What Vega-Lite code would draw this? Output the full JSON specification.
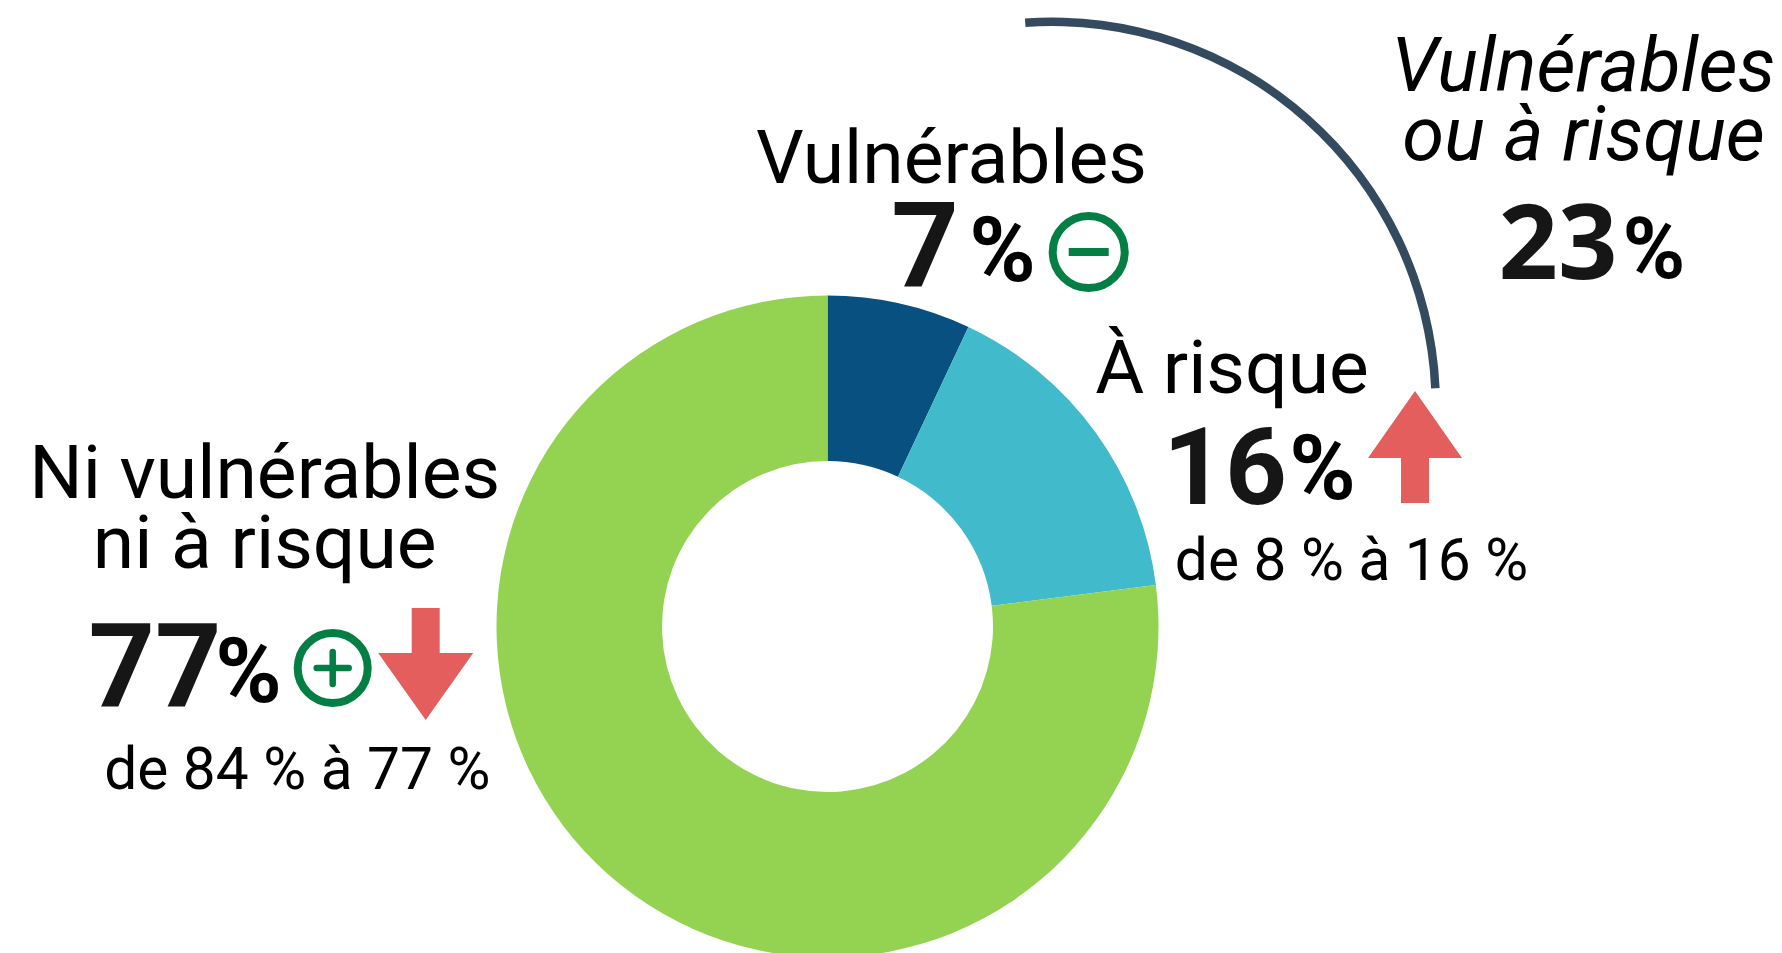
{"$schema":"https://vega.github.io/schema/vega-lite/v6.json","width":1782,"height":953,"padding":0,"autosize":{"type":"none"},"background":"white","config":{"view":{"stroke":null}},
"resolve":{"scale":{"theta":"independent"}},
"layer":[
{"data":{"values":[{"categorie":"Vulnérables","part":7,"rang":1},{"categorie":"À risque","part":16,"rang":2},{"categorie":"Ni vulnérables ni à risque","part":77,"rang":3}]},
"mark":{"type":"arc","x":827.5,"y":626.5,"innerRadius":165.5,"outerRadius":331},
"encoding":{"theta":{"field":"part","type":"quantitative","stack":true},"order":{"field":"rang","type":"quantitative"},"color":{"field":"categorie","type":"nominal","legend":null,"scale":{"domain":["Vulnérables","À risque","Ni vulnérables ni à risque"],"range":["#08507F","#41BBCB","#94D351"]}}}},
{"data":{"values":[{"debut":-4,"fin":87.4}]},
"mark":{"type":"arc","x":1052,"y":405.6,"innerRadius":379.5,"outerRadius":388,"color":"#344A5E"},
"encoding":{"theta":{"field":"debut","type":"quantitative","scale":{"domain":[0,360],"range":[0,6.28318]}},"theta2":{"field":"fin"}}},
{"data":{"values":[{"t":"Vulnérables"}]},"mark":{"type":"text","x":951.5,"y":183.3,"align":"center","baseline":"alphabetic","font":"Roboto","fontSize":75,"color":"#000000"},"encoding":{"text":{"field":"t"}}},
{"data":{"values":[{"t":"À risque"}]},"mark":{"type":"text","x":1232,"y":393.4,"align":"center","baseline":"alphabetic","font":"Roboto","fontSize":75,"color":"#000000"},"encoding":{"text":{"field":"t"}}},
{"data":{"values":[{"t":"Ni vulnérables"}]},"mark":{"type":"text","x":264.7,"y":498.3,"align":"center","baseline":"alphabetic","font":"Roboto","fontSize":75,"color":"#000000"},"encoding":{"text":{"field":"t"}}},
{"data":{"values":[{"t":"ni à risque"}]},"mark":{"type":"text","x":264.7,"y":568,"align":"center","baseline":"alphabetic","font":"Roboto","fontSize":75,"color":"#000000"},"encoding":{"text":{"field":"t"}}},
{"data":{"values":[{"t":"Vulnérables"}]},"mark":{"type":"text","x":1583.5,"y":90.7,"align":"center","baseline":"alphabetic","font":"Roboto","fontStyle":"italic","fontSize":76,"color":"#000000"},"encoding":{"text":{"field":"t"}}},
{"data":{"values":[{"t":"ou à risque"}]},"mark":{"type":"text","x":1583.5,"y":160,"align":"center","baseline":"alphabetic","font":"Roboto","fontStyle":"italic","fontSize":76,"color":"#000000"},"encoding":{"text":{"field":"t"}}},
{"data":{"values":[{"t":"de 8 % à 16 %"}]},"mark":{"type":"text","x":1351.5,"y":580,"align":"center","baseline":"alphabetic","font":"Roboto","fontSize":58.6,"color":"#000000"},"encoding":{"text":{"field":"t"}}},
{"data":{"values":[{"t":"de 84 % à 77 %"}]},"mark":{"type":"text","x":297.3,"y":789.3,"align":"center","baseline":"alphabetic","font":"Roboto","fontSize":58.6,"color":"#000000"},"encoding":{"text":{"field":"t"}}},
{"data":{"values":[{"t":"7"}]},"mark":{"type":"text","x":925,"y":286,"align":"center","baseline":"alphabetic","font":"Roboto","fontWeight":"bold","fontSize":118,"color":"#161616"},"encoding":{"text":{"field":"t"}}},
{"data":{"values":[{"t":"16"}]},"mark":{"type":"text","x":1225,"y":504.4,"align":"center","baseline":"alphabetic","font":"Roboto","fontWeight":"bold","fontSize":108,"color":"#161616"},"encoding":{"text":{"field":"t"}}},
{"data":{"values":[{"t":"77"}]},"mark":{"type":"text","x":155,"y":706,"align":"center","baseline":"alphabetic","font":"Roboto","fontWeight":"bold","fontSize":116,"color":"#161616"},"encoding":{"text":{"field":"t"}}},
{"data":{"values":[{"t":"23"}]},"mark":{"type":"text","x":1558,"y":279.4,"align":"center","baseline":"alphabetic","font":"Open Sans","fontWeight":"bold","fontSize":104,"color":"#161616"},"encoding":{"text":{"field":"t"}}},
{"data":{"values":[{"t":"%"}]},"mark":{"type":"text","x":1002.5,"y":281,"align":"center","baseline":"alphabetic","font":"Roboto","fontWeight":"bold","fontSize":90,"color":"#000000"},"encoding":{"text":{"field":"t"}}},
{"data":{"values":[{"t":"%"}]},"mark":{"type":"text","x":1322.5,"y":499.4,"align":"center","baseline":"alphabetic","font":"Roboto","fontWeight":"bold","fontSize":90,"color":"#000000"},"encoding":{"text":{"field":"t"}}},
{"data":{"values":[{"t":"%"}]},"mark":{"type":"text","x":248.5,"y":701.7,"align":"center","baseline":"alphabetic","font":"Roboto","fontWeight":"bold","fontSize":90,"color":"#000000"},"encoding":{"text":{"field":"t"}}},
{"data":{"values":[{"t":"%"}]},"mark":{"type":"text","x":1654,"y":278,"align":"center","baseline":"alphabetic","font":"Roboto","fontWeight":"bold","fontSize":85,"color":"#000000"},"encoding":{"text":{"field":"t"}}},
{"data":{"values":[{"signe":"hausse"}]},"mark":{"type":"point","x":1415,"y":447,"filled":true,"size":4,"opacity":1,"color":"#E55E5E","shape":"M0,-56L47,11H14V56H-14V11H-47Z"}},
{"data":{"values":[{"signe":"baisse"}]},"mark":{"type":"point","x":425.7,"y":664,"filled":true,"size":4,"opacity":1,"color":"#E55E5E","shape":"M-14,-56H14V-11H47.5L0,56L-47.5,-11H-14Z"}},
{"data":{"values":[{"signe":"plus"}]},"mark":{"type":"point","x":332.7,"y":668,"filled":false,"size":4900,"opacity":1,"stroke":"#047F43","strokeWidth":8,"shape":"circle"}},
{"data":{"values":[{"signe":"plus"}]},"mark":{"type":"point","x":332.7,"y":668,"filled":false,"size":4,"opacity":1,"stroke":"#047F43","strokeWidth":6.5,"strokeCap":"round","shape":"M-16,0H16M0,-16V16"}},
{"data":{"values":[{"signe":"moins"}]},"mark":{"type":"point","x":1088.7,"y":252,"filled":false,"size":5184,"opacity":1,"stroke":"#047F43","strokeWidth":8,"shape":"circle"}},
{"data":{"values":[{"signe":"moins"}]},"mark":{"type":"point","x":1088.7,"y":252,"filled":false,"size":4,"opacity":1,"stroke":"#047F43","strokeWidth":8,"shape":"M-20,0H20"}}
]}
